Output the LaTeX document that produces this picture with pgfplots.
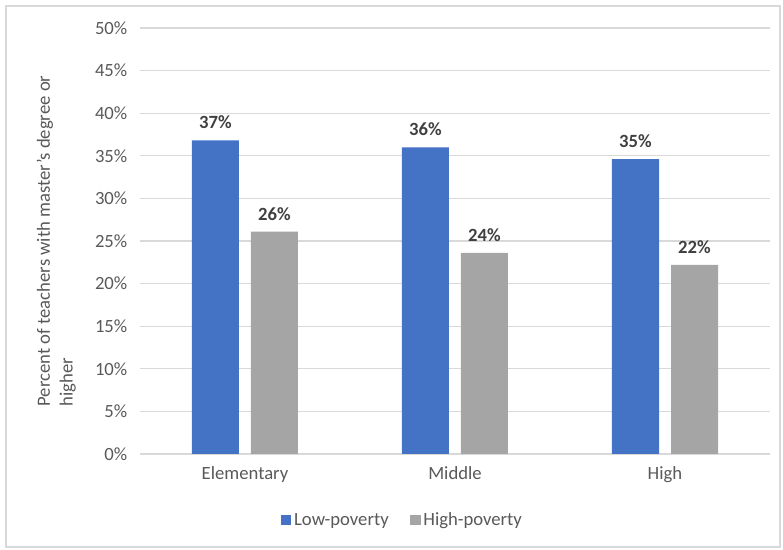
\documentclass[border=0pt]{standalone}
\usepackage{fontspec}
\setmainfont{Carlito}
\usepackage{pgfplots}
\pgfplotsset{compat=1.18}
\definecolor{lowblue}{HTML}{4472C4}
\definecolor{highgray}{HTML}{A5A5A5}
\definecolor{gridgray}{HTML}{D9D9D9}
\definecolor{txt}{HTML}{595959}
\definecolor{valtxt}{HTML}{404040}
\begin{document}
\begin{tikzpicture}
\useasboundingbox (-105pt,-72pt) rectangle (482.25pt,340.5pt);
\draw[color=gridgray, line width=0.8pt] (-100.5pt,-69.75pt) rectangle (480pt,336pt);
\begin{axis}[
  at={(0,0)}, anchor=south west,
  scale only axis,
  width=472.5pt, height=319.5pt,
  xmin=-0.5, xmax=2.5,
  ymin=0, ymax=50,
  xtick={0,1,2},
  xticklabels={Elementary,Middle,High},
  ytick={0,5,...,50},
  yticklabel={\pgfmathprintnumber{\tick}\%},
  /pgf/number format/assume math mode=true,
  major tick length=0pt,
  ymajorgrids,
  grid style={color=gridgray, line width=0.8pt},
  axis x line*=bottom,
  axis y line*=left,
  x axis line style={color=gridgray, line width=0.8pt, -},
  y axis line style={draw=none},
  ticklabel style={font=\fontsize{14}{16}\selectfont, text=txt},
  xticklabel style={yshift=-6pt},
  yticklabel style={xshift=-6pt},
  ylabel={Percent of teachers with master's degree or\\higher},
  ylabel style={at={(axis description cs:-0.133,0.5)}, anchor=center, rotate=0, align=left, font=\fontsize{14}{17}\selectfont, text=txt},
  ybar,
  bar width=35.25pt,
  nodes near coords={\pgfmathprintnumber[fixed,precision=0]{\pgfplotspointmeta}\%},
  nodes near coords style={font=\bfseries\fontsize{14}{16}\selectfont, text=valtxt, yshift=5pt},
  legend style={at={(0.417,-0.155)}, anchor=center, draw=none, legend columns=2, font=\fontsize{14}{16}\selectfont, text=txt, /tikz/every even column/.append style={column sep=14pt}},
  legend image code/.code={\fill[#1] (0pt,-4pt) rectangle (8pt,4pt);},
]
\addplot[fill=lowblue, draw=none, bar shift=-22.125pt] coordinates {(0,36.8) (1,36.0) (2,34.6)};
\addlegendentry{Low-poverty}
\addplot[fill=highgray, draw=none, bar shift=22.125pt] coordinates {(0,26.1) (1,23.6) (2,22.2)};
\addlegendentry{High-poverty}
\end{axis}
\end{tikzpicture}
\end{document}
